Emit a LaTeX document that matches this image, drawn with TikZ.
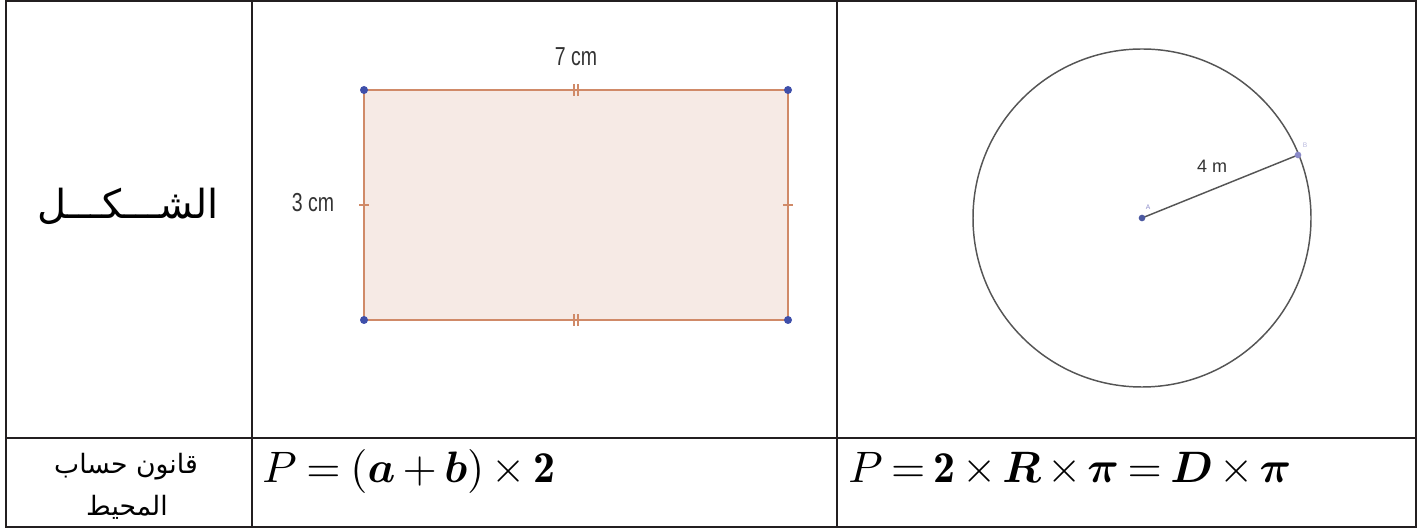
\documentclass[tikz,border=0pt]{standalone}
\usepackage{graphicx}
\usepackage{amsmath,bm}
\usepackage{fontspec}
\TeXXeTstate=1
\newfontfamily\arabicfont[Script=Arabic]{DejaVu Sans}
\newfontfamily\geofont[FakeStretch=0.75]{Liberation Sans}
\newfontfamily\geofontn{Liberation Sans}
\definecolor{tblline}{HTML}{231F20}
\definecolor{rectedge}{HTML}{D08A68}
\definecolor{rectfill}{HTML}{F6EAE5}
\definecolor{ptblue}{HTML}{3F4FAA}
\definecolor{circline}{HTML}{555555}
\definecolor{lblgray}{HTML}{333333}
\definecolor{faintpt}{HTML}{8A8AC8}
\tikzset{
  tbl/.style={draw=tblline, line width=1.6pt},
  geolbl/.style={inner sep=0pt, text=lblgray, font=\geofont\fontsize{19.5}{22}\selectfont},
  vertexdot/.style={circle, fill=ptblue, inner sep=0pt, minimum size=6pt},
  arlbl/.style={inner sep=0pt, text=black},
  formula/.style={inner sep=0pt, anchor=base west}
}
\begin{document}
\begin{tikzpicture}[x=0.75pt,y=-0.75pt]
\useasboundingbox (0,0) rectangle (1421,530);
% table
\coordinate (TL) at (6,1);
\coordinate (BR) at (1416,527);
\draw[tbl] (TL) rectangle (BR);
\coordinate (c1t) at (252,1);
\coordinate (c1b) at (252,527);
\coordinate (c2t) at (837,1);
\coordinate (c2b) at (837,527);
\coordinate (rl) at (6,438);
\coordinate (rr) at (1416,438);
\draw[tbl] (c1t) -- (c1b);
\draw[tbl] (c2t) -- (c2b);
\draw[tbl] (rl) -- (rr);
% left column text
\node[arlbl, font=\arabicfont\fontsize{30}{36}\selectfont] (shape) at (128,206) {\beginR الشـــكـــل\endR};
\node[arlbl, font=\arabicfont\fontsize{20}{24}\selectfont] (law1) at (126,467) {\beginR قانون حساب\endR};
\node[arlbl, font=\arabicfont\fontsize{20}{24}\selectfont] (law2) at (127,507) {\beginR المحيط\endR};
% formulas
\node[formula] (f1) at (262,483) {\scalebox{3.3}{\medmuskip=3mu\thickmuskip=4mu$P=(\bm{a}+\bm{b})\times\mathbf{2}$}};
\node[formula] (f2) at (848,483) {\scalebox{3.3}{\medmuskip=2.5mu\thickmuskip=3.5mu$P=\mathbf{2}\times\bm{R}\times\bm{\pi}=\bm{D}\times\bm{\pi}$}};
% rectangle
\coordinate (A) at (364,90);
\coordinate (B) at (788,90);
\coordinate (C) at (788,320);
\coordinate (D) at (364,320);
\fill[rectfill] (A) rectangle (C);
\draw[rectedge, line width=1.9pt] (A) -- (B) -- (C) -- (D) -- cycle;
\coordinate (mt) at (576,90);
\coordinate (mb) at (576,320);
\coordinate (ml) at (364,205);
\coordinate (mr) at (788,205);
\foreach \m in {mt,mb}{
  \draw[rectedge, line width=1.2pt] ([xshift=-1.5pt,yshift=-4.5pt]\m) -- ([xshift=-1.5pt,yshift=4.5pt]\m);
  \draw[rectedge, line width=1.2pt] ([xshift=1.5pt,yshift=-4.5pt]\m) -- ([xshift=1.5pt,yshift=4.5pt]\m);
}
\foreach \m in {ml,mr}{
  \draw[rectedge, line width=1.2pt] ([xshift=-3.5pt]\m) -- ([xshift=3.5pt]\m);
}
\foreach \p in {A,B,C,D}{ \node[vertexdot] (dot\p) at (\p) {}; }
\node[geolbl] (len7) at (576,57) {7 cm};
\node[geolbl] (len3) at (313,203) {3 cm};
% circle
\coordinate (O) at (1142,218);
\draw[circline, line width=1.1pt] (O) circle[radius=126.75pt];
\coordinate (P) at (1298,155);
\draw[circline, line width=1.1pt] (O) -- (P);
\node[circle, fill=ptblue!80!gray, inner sep=0pt, minimum size=5pt] (cdot) at (O) {};
\node[circle, fill=faintpt, inner sep=0pt, minimum size=5pt] (pdot) at (P) {};
\node[inner sep=0pt, text=faintpt, font=\geofontn\fontsize{5}{6}\selectfont] (lA) at (1148,207) {A};
\node[inner sep=0pt, text=faintpt!60, font=\geofontn\fontsize{5}{6}\selectfont] (lB) at (1305,145) {B};
\node[inner sep=0pt, text=lblgray, font=\geofontn\fontsize{13.5}{16}\selectfont] (len4) at (1212,166) {4 m};
\end{tikzpicture}
\end{document}
